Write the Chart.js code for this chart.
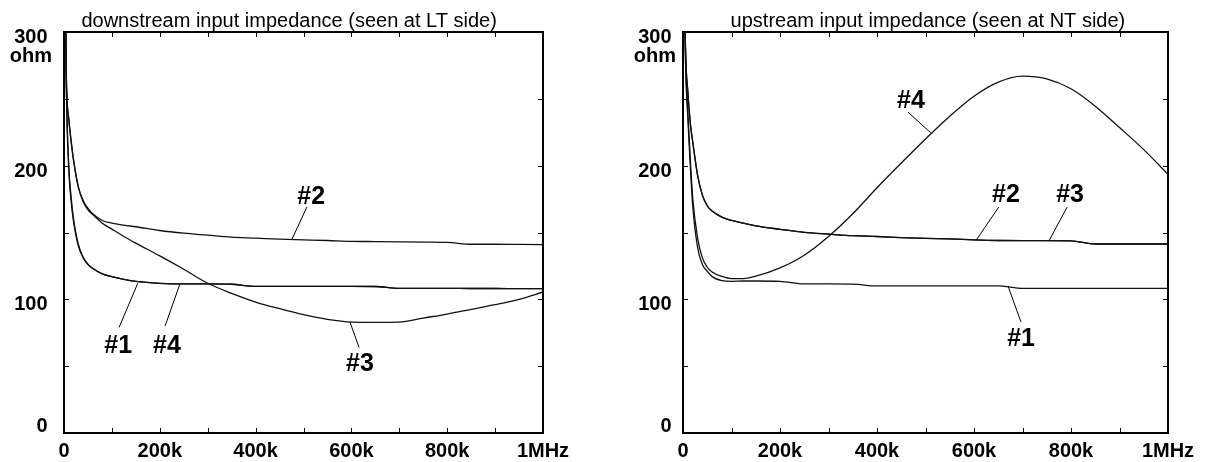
<!DOCTYPE html>
<html>
<head>
<meta charset="utf-8">
<script src="https://cdn.jsdelivr.net/npm/chart.js@4"></script>
<style>
body { margin: 0; background: #fff; }
#wrap { position: relative; width: 1212px; height: 462px; }
canvas { position: absolute; top: 0; }
</style>
</head>
<body>
<div id="wrap">
<canvas id="downChart" width="606" height="462" style="left:0"></canvas>
<canvas id="upChart" width="606" height="462" style="left:606px"></canvas>
</div>
<script>
// frequency grid, kHz
var freqs = [0, 5, 10, 15, 20, 30, 40, 50, 60, 80, 100, 125, 150, 200, 250, 300, 350, 400, 450, 500, 550, 600, 650, 700, 750, 800, 850, 900, 950, 1000];

// downstream input impedance (LT side), ohm
var down1 = [420, 255, 197, 173, 158, 140, 131, 126, 123, 119, 117, 115, 113.5, 112, 111.5, 111.5, 111.3, 109.7, 109.7, 109.7, 109.7, 109.7, 109.6, 108.2, 108.2, 108.2, 108.1, 108.1, 108, 108];
var down2 = [420, 265, 235, 218, 204, 184, 174, 168, 164, 159, 157, 155.5, 154.3, 151.5, 149.5, 148, 146.5, 145.8, 145, 144.5, 144, 143.4, 143.2, 143, 142.8, 142.6, 141.2, 141.2, 141.1, 141];
var down3 = [420, 265, 235, 218, 204, 184, 173, 167, 163.5, 157, 152.5, 147, 142, 132.5, 122.5, 112, 104.5, 98, 93, 88.5, 85, 83, 82.8, 83, 86, 89, 92.5, 96, 100, 105.5];
var down4 = [420, 258, 200, 176, 160, 141, 131.5, 126.3, 123.2, 119.1, 117, 115, 113.5, 112, 111.5, 111.5, 111.3, 109.7, 109.7, 109.7, 109.7, 109.7, 109.6, 108.2, 108.2, 108.2, 108.1, 108.1, 108, 108];

// upstream input impedance (NT side), ohm
var up1 = [420, 280, 235, 200, 170, 139, 126, 121, 117, 114, 113.5, 113.7, 113.7, 113.5, 111.5, 111.5, 111.4, 110, 110, 110, 110, 110, 110, 108.2, 108.2, 108.2, 108.2, 108.2, 108.2, 108.2];
var up2 = [420, 290, 255, 232, 218, 193, 178, 170, 166, 161.5, 159, 157, 155, 152.4, 150.1, 148.8, 147.6, 147, 146.2, 145.6, 145.2, 144.5, 144, 143.9, 143.9, 143.8, 141.4, 141.4, 141.4, 141.4];
var up3 = [420, 290, 255, 232, 218, 193, 178, 170, 166, 161.5, 159, 157, 155, 152.4, 150.1, 148.8, 147.6, 147, 146.2, 145.6, 145.2, 144.5, 144, 143.9, 143.9, 143.8, 141.4, 141.4, 141.4, 141.4];
var up4 = [420, 285, 240, 205, 176, 146, 131, 124, 120.5, 117.2, 115.5, 115.5, 117.3, 123.5, 133, 147, 164, 183.5, 202, 220, 237, 252, 262.5, 267, 265, 257.5, 244.5, 228.5, 212, 193.5];

// axes
var xTickValues = [0, 100, 200, 300, 400, 500, 600, 700, 800, 900, 1000];
var xLabelValues = [0, 200, 400, 600, 800, 1000];
var xLabelTexts = ['0', '200k', '400k', '600k', '800k', '1MHz'];
var yTickValues = [0, 50, 100, 150, 200, 250, 300];
var yLabelValues = [0, 100, 200, 300];
var yLabelTexts = ['0', '100', '200', '300'];

// curve labels: text, text position, leader from -> to (kHz, ohm)
var downNotes = [
    { text: '#2', x: 516, y: 177, from: [507, 169], to: [476, 145] },
    { text: '#1', x: 113, y: 66, from: [115, 79], to: [154, 112] },
    { text: '#4', x: 215, y: 66, from: [211, 80], to: [242, 111.5] },
    { text: '#3', x: 618, y: 52, from: [616, 64], to: [597, 83] }
];
var upNotes = [
    { text: '#4', x: 470, y: 249, from: [464, 240], to: [511, 224.5] },
    { text: '#2', x: 666, y: 179, from: [651, 169], to: [604, 144] },
    { text: '#3', x: 798, y: 179, from: [792, 169], to: [755, 144] },
    { text: '#1', x: 697, y: 71, from: [697, 83], to: [670, 110] }
];

function points(ys) {
    return freqs.map(function (f, i) { return { x: f, y: ys[i] }; });
}

var framePlugin = {
    id: 'frame',
    afterDatasetsDraw: function (chart, args, opts) {
        var ctx = chart.ctx, a = chart.chartArea;
        var xs = chart.scales.x, ys = chart.scales.y;
        ctx.save();
        ctx.strokeStyle = '#000';
        ctx.fillStyle = '#000';

        // leader lines and curve labels
        ctx.lineWidth = 1;
        ctx.font = 'bold 25px "Liberation Sans", Arial, sans-serif';
        ctx.textAlign = 'center';
        ctx.textBaseline = 'middle';
        opts.notes.forEach(function (n) {
            ctx.beginPath();
            ctx.moveTo(xs.getPixelForValue(n.from[0]), ys.getPixelForValue(n.from[1]));
            ctx.lineTo(xs.getPixelForValue(n.to[0]), ys.getPixelForValue(n.to[1]));
            ctx.stroke();
            ctx.fillText(n.text, xs.getPixelForValue(n.x), ys.getPixelForValue(n.y) + 1);
        });

        // box
        ctx.lineWidth = 2;
        ctx.strokeRect(a.left, a.top, a.right - a.left, a.bottom - a.top);

        // inward ticks on all four sides
        ctx.lineWidth = 1;
        ctx.beginPath();
        xTickValues.forEach(function (v) {
            var px = Math.round(xs.getPixelForValue(v)) + 0.5;
            ctx.moveTo(px, a.bottom); ctx.lineTo(px, a.bottom - 5);
            ctx.moveTo(px, a.top); ctx.lineTo(px, a.top + 5);
        });
        yTickValues.forEach(function (v) {
            var py = Math.round(ys.getPixelForValue(v)) + 0.5;
            ctx.moveTo(a.left, py); ctx.lineTo(a.left + 5, py);
            ctx.moveTo(a.right, py); ctx.lineTo(a.right - 5, py);
        });
        ctx.stroke();

        // tick labels
        ctx.font = 'bold 20px "Liberation Sans", Arial, sans-serif';
        ctx.textBaseline = 'alphabetic';
        ctx.textAlign = 'center';
        xLabelValues.forEach(function (v, i) {
            ctx.fillText(xLabelTexts[i], xs.getPixelForValue(v), a.bottom + 23.5);
        });
        ctx.textAlign = 'right';
        var lx = a.left - opts.labelGap;
        yLabelValues.forEach(function (v, i) {
            var py = ys.getPixelForValue(v);
            ctx.fillText(yLabelTexts[i], lx, v === 0 ? py - 1 : py + 11);
        });
        var w300 = ctx.measureText('300').width;
        ctx.textAlign = 'center';
        ctx.fillText('ohm', lx - w300 / 2, ys.getPixelForValue(300) + 30);

        // title
        ctx.font = '20px "Liberation Sans", Arial, sans-serif';
        ctx.fillText(opts.title, xs.getPixelForValue(opts.titleAt), a.top - 5);
        ctx.restore();
    }
};

function makeChart(id, series, notes, title, titleAt, pad, labelGap) {
    var ctx = document.getElementById(id).getContext('2d');
    return new Chart(ctx, {
        type: 'scatter',
        data: {
            datasets: series.map(function (s) {
                return {
                    data: points(s),
                    showLine: true,
                    borderColor: '#111',
                    borderWidth: 1.3,
                    pointRadius: 0,
                    cubicInterpolationMode: 'monotone'
                };
            })
        },
        options: {
            responsive: false,
            animation: false,
            devicePixelRatio: 1,
            layout: { padding: pad },
            plugins: {
                legend: { display: false },
                tooltip: { enabled: false },
                frame: { notes: notes, title: title, titleAt: titleAt, labelGap: labelGap }
            },
            scales: {
                x: { type: 'linear', min: 0, max: 1000, display: false },
                y: { type: 'linear', min: 0, max: 300, display: false }
            }
        },
        plugins: [framePlugin]
    });
}

makeChart('downChart', [down1, down2, down3, down4], downNotes,
    'downstream input impedance (seen at LT side)', 470,
    { left: 64, top: 32, right: 63, bottom: 29 }, 16.5);
makeChart('upChart', [up1, up2, up3, up4], upNotes,
    'upstream input impedance (seen at NT side)', 505,
    { left: 77, top: 32, right: 44, bottom: 29 }, 11.5);
</script>
</body>
</html>
